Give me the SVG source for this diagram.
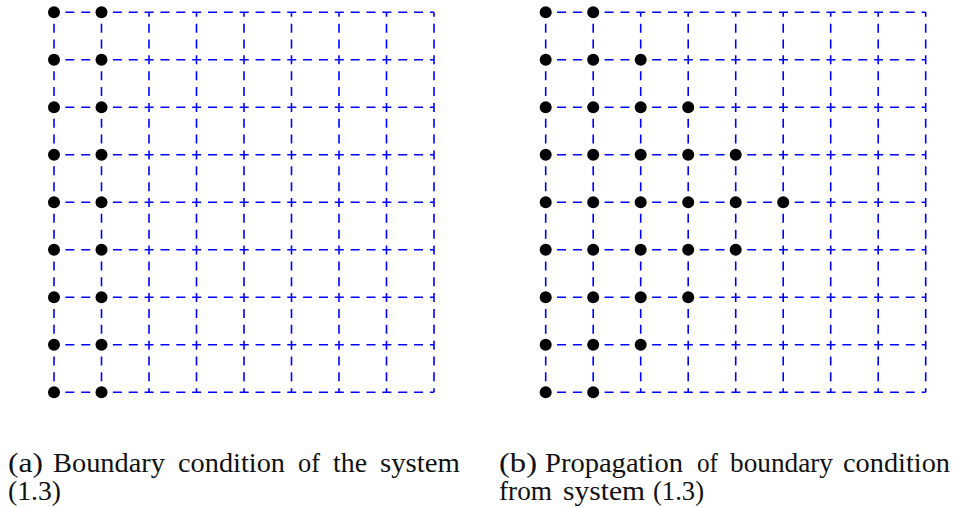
<svg xmlns="http://www.w3.org/2000/svg" width="955" height="508" viewBox="0 0 955 508">
<style>
.g line{stroke:#0000ff;stroke-width:1.6;stroke-dasharray:9 6.85;stroke-dashoffset:4.5;fill:none}
.d circle{fill:#000}
.cap text{font-family:"Liberation Serif","DejaVu Serif",serif;font-size:27px;fill:#111}
</style>
<defs>
<g id="grid" class="g">
<line x1="0" y1="0" x2="380" y2="0"/>
<line x1="0" y1="47.5" x2="380" y2="47.5"/>
<line x1="0" y1="95" x2="380" y2="95"/>
<line x1="0" y1="142.5" x2="380" y2="142.5"/>
<line x1="0" y1="190" x2="380" y2="190"/>
<line x1="0" y1="237.5" x2="380" y2="237.5"/>
<line x1="0" y1="285" x2="380" y2="285"/>
<line x1="0" y1="332.5" x2="380" y2="332.5"/>
<line x1="0" y1="380" x2="380" y2="380"/>
<line x1="0" y1="0" x2="0" y2="380"/>
<line x1="47.5" y1="0" x2="47.5" y2="380"/>
<line x1="95" y1="0" x2="95" y2="380"/>
<line x1="142.5" y1="0" x2="142.5" y2="380"/>
<line x1="190" y1="0" x2="190" y2="380"/>
<line x1="237.5" y1="0" x2="237.5" y2="380"/>
<line x1="285" y1="0" x2="285" y2="380"/>
<line x1="332.5" y1="0" x2="332.5" y2="380"/>
<line x1="380" y1="0" x2="380" y2="380"/>
</g>
</defs>
<g id="panel-a" transform="translate(54,12.3)">
<g id="connectors-a"><use href="#grid"/></g>
<g id="nodes-a" class="d">
<circle cx="0" cy="0" r="6"/><circle cx="47.5" cy="0" r="6"/>
<circle cx="0" cy="47.5" r="6"/><circle cx="47.5" cy="47.5" r="6"/>
<circle cx="0" cy="95" r="6"/><circle cx="47.5" cy="95" r="6"/>
<circle cx="0" cy="142.5" r="6"/><circle cx="47.5" cy="142.5" r="6"/>
<circle cx="0" cy="190" r="6"/><circle cx="47.5" cy="190" r="6"/>
<circle cx="0" cy="237.5" r="6"/><circle cx="47.5" cy="237.5" r="6"/>
<circle cx="0" cy="285" r="6"/><circle cx="47.5" cy="285" r="6"/>
<circle cx="0" cy="332.5" r="6"/><circle cx="47.5" cy="332.5" r="6"/>
<circle cx="0" cy="380" r="6"/><circle cx="47.5" cy="380" r="6"/>
</g>
</g>
<g id="panel-b" transform="translate(545.7,12.3)">
<g id="connectors-b"><use href="#grid"/></g>
<g id="nodes-b" class="d">
<circle cx="0" cy="0" r="6"/><circle cx="47.5" cy="0" r="6"/>
<circle cx="0" cy="47.5" r="6"/><circle cx="47.5" cy="47.5" r="6"/><circle cx="95" cy="47.5" r="6"/>
<circle cx="0" cy="95" r="6"/><circle cx="47.5" cy="95" r="6"/><circle cx="95" cy="95" r="6"/><circle cx="142.5" cy="95" r="6"/>
<circle cx="0" cy="142.5" r="6"/><circle cx="47.5" cy="142.5" r="6"/><circle cx="95" cy="142.5" r="6"/><circle cx="142.5" cy="142.5" r="6"/><circle cx="190" cy="142.5" r="6"/>
<circle cx="0" cy="190" r="6"/><circle cx="47.5" cy="190" r="6"/><circle cx="95" cy="190" r="6"/><circle cx="142.5" cy="190" r="6"/><circle cx="190" cy="190" r="6"/><circle cx="237.5" cy="190" r="6"/>
<circle cx="0" cy="237.5" r="6"/><circle cx="47.5" cy="237.5" r="6"/><circle cx="95" cy="237.5" r="6"/><circle cx="142.5" cy="237.5" r="6"/><circle cx="190" cy="237.5" r="6"/>
<circle cx="0" cy="285" r="6"/><circle cx="47.5" cy="285" r="6"/><circle cx="95" cy="285" r="6"/><circle cx="142.5" cy="285" r="6"/>
<circle cx="0" cy="332.5" r="6"/><circle cx="47.5" cy="332.5" r="6"/><circle cx="95" cy="332.5" r="6"/>
<circle cx="0" cy="380" r="6"/><circle cx="47.5" cy="380" r="6"/>
</g>
</g>
<g id="caption-a" class="cap">
<text x="8" y="471.5" textLength="35" lengthAdjust="spacingAndGlyphs">(a)</text>
<text x="53" y="471.5" textLength="112" lengthAdjust="spacingAndGlyphs">Boundary</text>
<text x="178" y="471.5" textLength="107" lengthAdjust="spacingAndGlyphs">condition</text>
<text x="298" y="471.5" textLength="22" lengthAdjust="spacingAndGlyphs">of</text>
<text x="333" y="471.5" textLength="34" lengthAdjust="spacingAndGlyphs">the</text>
<text x="380" y="471.5" textLength="80" lengthAdjust="spacingAndGlyphs">system</text>
<text x="8" y="499.5" textLength="53" lengthAdjust="spacingAndGlyphs">(1.3)</text>
</g>
<g id="caption-b" class="cap">
<text x="499" y="471.5" textLength="38" lengthAdjust="spacingAndGlyphs">(b)</text>
<text x="545" y="471.5" textLength="138" lengthAdjust="spacingAndGlyphs">Propagation</text>
<text x="697" y="471.5" textLength="21" lengthAdjust="spacingAndGlyphs">of</text>
<text x="730" y="471.5" textLength="103" lengthAdjust="spacingAndGlyphs">boundary</text>
<text x="843" y="471.5" textLength="107" lengthAdjust="spacingAndGlyphs">condition</text>
<text x="499" y="499.5" textLength="53" lengthAdjust="spacingAndGlyphs">from</text>
<text x="563" y="499.5" textLength="82" lengthAdjust="spacingAndGlyphs">system</text>
<text x="653" y="499.5" textLength="51" lengthAdjust="spacingAndGlyphs">(1.3)</text>
</g>
</svg>
